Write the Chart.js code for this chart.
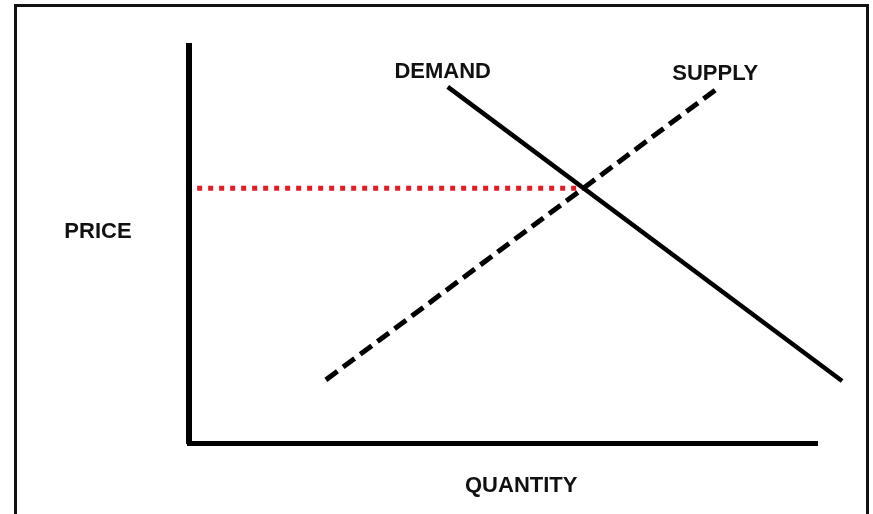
<!DOCTYPE html>
<html>
<head>
<meta charset="utf-8">
<script src="https://cdn.jsdelivr.net/npm/chart.js@4.4.0/dist/chart.umd.min.js"></script>
<style>
  html, body { margin: 0; padding: 0; background: #fff; overflow: hidden; }
  #wrap { position: relative; width: 873px; height: 514px; }
  #frame { position: absolute; left: 14px; top: 4px; width: 849px; height: 530px; border: 3px solid #111; box-sizing: content-box; pointer-events: none; }
  canvas { position: absolute; left: 0; top: 0; }
</style>
</head>
<body>
<div id="wrap">
  <canvas id="c" width="873" height="514"></canvas>
  <div id="frame"></div>
</div>
<script>
// ---- data ----
const demandX = [41.2, 104.0];
const demandY = [89.7, 15.6];
const supplyX = [21.8, 83.8];
const supplyY = [15.9, 88.9];
const priceLineX = [1.3, 62.8];
const priceLineY = [64.2, 64.2];
const labelTexts = ['DEMAND', 'SUPPLY', 'PRICE', 'QUANTITY'];

function pts(xs, ys) { return xs.map((x, i) => ({ x: x, y: ys[i] })); }

// label placement (data coordinates, baseline), kept in options
const labelPlacement = [
  { x: 40.4, y: 91.9 },
  { x: 83.8, y: 91.4 },
  { x: -14.5, y: 51.6 },
  { x: 52.9, y: -12.3 }
];

const labelPlugin = {
  id: 'curveLabels',
  afterDraw(chart, args, opts) {
    const ctx = chart.ctx;
    const xs = chart.scales.x, ys = chart.scales.y;
    ctx.save();
    ctx.font = opts.font;
    ctx.fillStyle = opts.color;
    ctx.textAlign = 'center';
    ctx.textBaseline = 'alphabetic';
    opts.texts.forEach((t, i) => {
      const p = opts.positions[i];
      ctx.fillText(t, xs.getPixelForValue(p.x), ys.getPixelForValue(p.y));
    });
    ctx.restore();
  }
};

new Chart(document.getElementById('c'), {
  type: 'scatter',
  data: {
    datasets: [
      {
        label: 'DEMAND',
        data: pts(demandX, demandY),
        showLine: true,
        borderColor: '#000',
        borderWidth: 4.5,
        pointRadius: 0,
        clip: false,
        order: 1
      },
      {
        label: 'SUPPLY',
        data: pts(supplyX, supplyY),
        showLine: true,
        borderColor: '#000',
        borderWidth: 5,
        borderDash: [14.4, 7],
        pointRadius: 0,
        clip: false,
        order: 1
      },
      {
        label: 'PRICE',
        data: pts(priceLineX, priceLineY),
        showLine: true,
        borderColor: '#e31b23',
        borderWidth: 5,
        borderDash: [5, 6],
        pointRadius: 0,
        clip: false,
        order: 2
      }
    ]
  },
  options: {
    responsive: false,
    animation: false,
    events: [],
    layout: { padding: { left: 179, top: 46, right: 56, bottom: 61 } },
    scales: {
      x: {
        type: 'linear',
        min: 0, max: 100,
        grid: { display: false },
        ticks: { display: false },
        border: { display: true, color: '#000', width: 5 },
        afterFit(s) { s.height = 10; }
      },
      y: {
        type: 'linear',
        min: 0, max: 100,
        grid: { display: false },
        ticks: { display: false },
        border: { display: true, color: '#000', width: 6 },
        afterFit(s) { s.width = 10; }
      }
    },
    plugins: {
      legend: { display: false },
      tooltip: { enabled: false },
      curveLabels: {
        texts: labelTexts,
        positions: labelPlacement,
        font: 'bold 22px "Liberation Sans", Arial, sans-serif',
        color: '#111'
      }
    }
  },
  plugins: [labelPlugin]
});
</script>
</body>
</html>
